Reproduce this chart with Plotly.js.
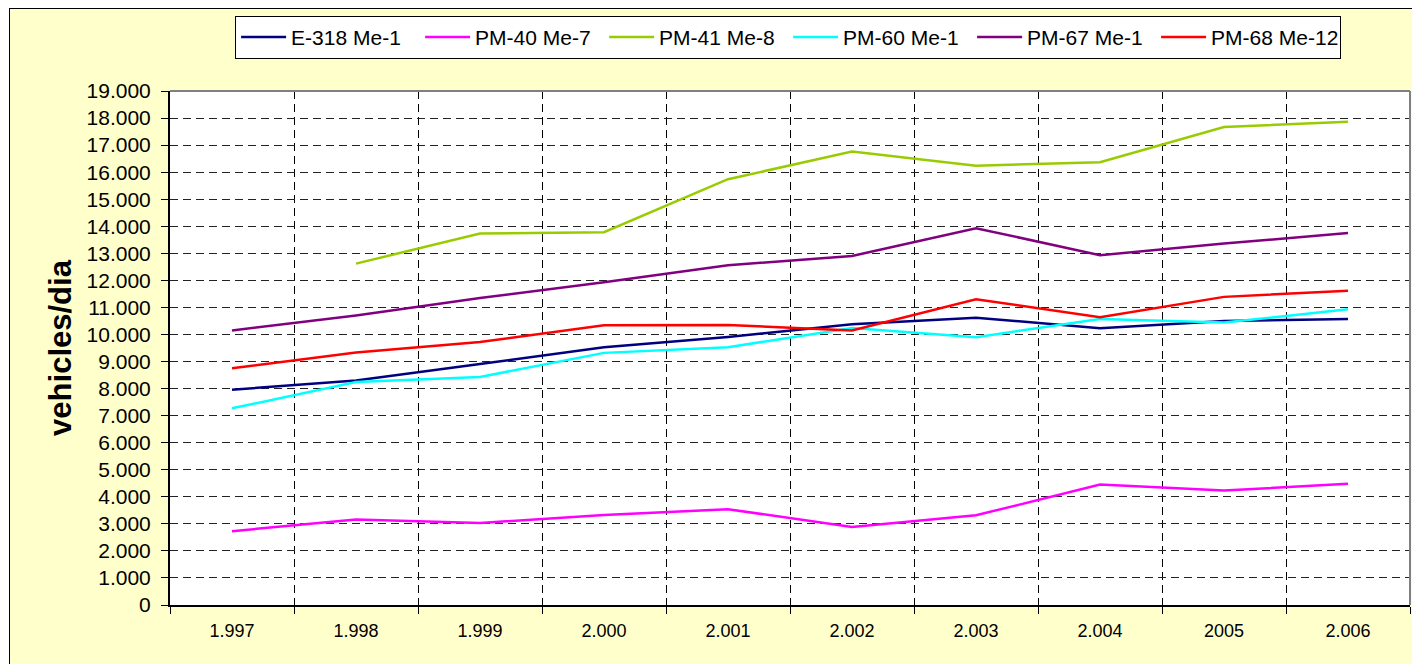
<!DOCTYPE html>
<html>
<head>
<meta charset="utf-8">
<script src="https://cdn.plot.ly/plotly-3.0.1.min.js"></script>
<style>
  html, body { margin: 0; padding: 0; background: #ffffff; }
  #wrap { position: absolute; left: 9px; top: 8px; width: 1403px; height: 656px;
          border-left: 1px solid #000; border-top: 1px solid #000; background: #FFFFCC; }
  #chart { width: 1402px; height: 655px; }
</style>
</head>
<body>
<div id="wrap"><div id="chart"></div></div>
<script>
// Categories (years, as printed on the axis)
const years = ["1.997", "1.998", "1.999", "2.000", "2.001", "2.002", "2.003", "2.004", "2005", "2.006"];

// Series values (vehicles/dia)
const e318_me1  = [7960, 8300, 8910, 9530, 9910, 10380, 10620, 10230, 10500, 10570];
const pm40_me7  = [2730, 3160, 3030, 3330, 3540, 2885, 3315, 4450, 4230, 4485];
const pm41_me8  = [null, 12620, 13730, 13780, 15740, 16760, 16240, 16370, 17670, 17860];
const pm60_me1  = [7270, 8240, 8430, 9320, 9530, 10240, 9900, 10570, 10440, 10930];
const pm67_me1  = [10150, 10700, 11350, 11930, 12560, 12900, 13930, 12930, 13360, 13750];
const pm68_me12 = [8750, 9330, 9720, 10340, 10350, 10150, 11300, 10640, 11390, 11620];

const seriesNames = ["E-318 Me-1", "PM-40 Me-7", "PM-41 Me-8", "PM-60 Me-1", "PM-67 Me-1", "PM-68 Me-12"];
const seriesColors = ["#000080", "#FF00FF", "#99CC00", "#00FFFF", "#800080", "#FF0000"];
const seriesValues = [e318_me1, pm40_me7, pm41_me8, pm60_me1, pm67_me1, pm68_me12];

const traces = seriesValues.map((vals, i) => ({
  type: "scatter",
  mode: "lines",
  x: years,
  y: vals,
  name: seriesNames[i],
  line: { color: seriesColors[i], width: 2.5 },
  connectgaps: false
}));

const layout = {
  width: 1402,
  height: 655,
  margin: { l: 160, r: 2, t: 82, b: 59, pad: 0 },
  paper_bgcolor: "rgba(0,0,0,0)",
  plot_bgcolor: "#FFFFFF",
  separators: ",.",
  font: { family: "Arial, 'Liberation Sans', sans-serif", color: "#000000" },
  showlegend: true,
  legend: {
    orientation: "h",
    x: 0.0525, xanchor: "left",
    y: 1.146, yanchor: "top",
    bgcolor: "#FFFFFF",
    bordercolor: "#000000",
    borderwidth: 1,
    font: { size: 21, family: "Arial, 'Liberation Sans', sans-serif" },
    itemwidth: 45,
    entrywidth: 124,
    entrywidthmode: "pixels",
    traceorder: "normal"
  },
  xaxis: {
    type: "category",
    tickson: "boundaries",
    range: [-0.5, 9.5],
    showline: true, linecolor: "#000000", linewidth: 2,
    ticks: "outside", ticklen: 7, tickcolor: "#000000", tickwidth: 1,
    showgrid: true, gridcolor: "#000000", gridwidth: 1, griddash: "8px,5px",
    tickfont: { size: 18 },
    ticklabelstandoff: 8,
    zeroline: false,
    fixedrange: true
  },
  yaxis: {
    range: [0, 19000],
    tick0: 0, dtick: 1000,
    tickformat: ",d",
    showline: true, linecolor: "#000000", linewidth: 2,
    ticks: "outside", ticklen: 7, tickcolor: "#000000", tickwidth: 1,
    showgrid: true, gridcolor: "#222222", gridwidth: 1, griddash: "8px,5px",
    tickfont: { size: 21 },
    ticklabelstandoff: 6,
    zeroline: false,
    automargin: false,
    title: { text: "vehicles/dia", font: { size: 31, family: "Arial, 'Liberation Sans', sans-serif", weight: "bold" }, standoff: 6 },
    fixedrange: true
  },
  shapes: [
    { type: "line", xref: "paper", yref: "paper", x0: 0, x1: 1, y0: 1, y1: 1, line: { color: "#808080", width: 2 } },
    { type: "line", xref: "paper", yref: "paper", x0: 1, x1: 1, y0: 0, y1: 1, line: { color: "#808080", width: 2 } }
  ]
};

Plotly.newPlot("chart", traces, layout, { displayModeBar: false, staticPlot: true });
</script>
</body>
</html>
